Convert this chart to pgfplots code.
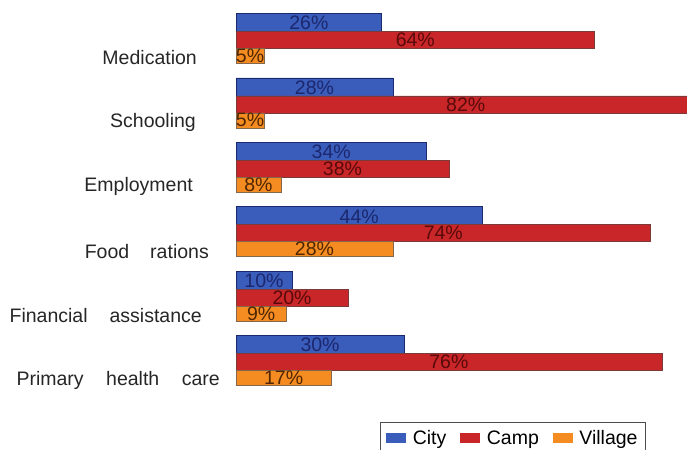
\documentclass[border=0pt]{standalone}
\usepackage{pgfplots}
\pgfplotsset{compat=1.18}
\usepackage{pgfplotstable}
\usepackage{fontspec}
\setmainfont{Liberation Sans}
\definecolor{cityc}{RGB}{58,92,186}
\definecolor{campc}{RGB}{200,38,40}
\definecolor{villc}{RGB}{245,140,34}
\definecolor{citydk}{RGB}{28,40,110}
\definecolor{campdk}{RGB}{90,10,10}
\definecolor{villdk}{RGB}{80,38,0}
\pgfplotstableread{
pos City Camp Village
5 26 64 5
4 28 82 5
3 34 38 8
2 44 74 28
1 10 20 9
0 30 76 17
}\datatable
\newcommand{\lbl}{\fontsize{19.5bp}{22bp}\selectfont}
\begin{document}
\begin{tikzpicture}
\begin{axis}[
  at={(236bp,0bp)}, anchor=south west,
  scale only axis, width=451bp, height=450bp,
  xmin=0, xmax=80.5, ymin=-1.366, ymax=5.621,
  axis line style={draw=none},
  major tick length=0pt,
  xtick=\empty,
  ytick={0,1,2,3,4,5},
  yticklabels={Primary\hspace{22.5bp}health\hspace{22.5bp}care,
               Financial\hspace{22bp}assistance\kern18bp,
               Food\hspace{21bp}rations\kern11bp,
               Employment\kern27bp,
               Schooling\kern24bp,
               Medication\kern23bp},
  yticklabel style={font=\lbl, text=black!85, anchor=east, inner sep=0pt, xshift=-16bp, yshift=-18bp},
  legend style={at={(rel axis cs:0.3193,0.0622)}, anchor=north west,
    draw=black!70, line width=0.6pt, font=\lbl, legend columns=3,
    inner xsep=6bp, inner ysep=6bp,
    /tikz/every odd column/.append style={column sep=5bp},
    /tikz/every even column/.append style={column sep=12bp}},
  legend cell align=left,
]
\addplot[xbar, bar width=19bp, bar shift=17bp, fill=cityc, draw=citydk, line width=0.5pt,
  legend image code/.code={\fill[cityc] (0bp,-4.5bp) rectangle (19bp,4.5bp);}]
  table[x=City, y=pos] {\datatable};
\addplot[xbar, bar width=17bp, bar shift=0bp, fill=campc, draw=campdk!80, line width=0.5pt,
  legend image code/.code={\fill[campc] (0bp,-4.5bp) rectangle (19bp,4.5bp);}]
  table[x=Camp, y=pos] {\datatable};
\addplot[xbar, bar width=15bp, bar shift=-16bp, fill=villc, draw=villdk!70, line width=0.5pt,
  legend image code/.code={\fill[villc] (0bp,-4.5bp) rectangle (19bp,4.5bp);}]
  table[x=Village, y=pos] {\datatable};
\legend{City, Camp, Village}
% value labels at bar centres
\addplot[forget plot, draw=none, mark=none, nodes near coords={\pgfmathprintnumber[assume math mode=true]{\pgfplotspointmeta}\%},
  point meta=explicit, nodes near coords style={anchor=center, font=\lbl, text=citydk, inner sep=0pt}]
  table[x expr=\thisrow{City}/2, y expr=\thisrow{pos}+0.26, meta=City] {\datatable};
\addplot[forget plot, draw=none, mark=none, nodes near coords={\pgfmathprintnumber[assume math mode=true]{\pgfplotspointmeta}\%},
  point meta=explicit, nodes near coords style={anchor=center, font=\lbl, text=campdk, inner sep=0pt}]
  table[x expr=\thisrow{Camp}/2, y expr=\thisrow{pos}, meta=Camp] {\datatable};
\addplot[forget plot, draw=none, mark=none, nodes near coords={\pgfmathprintnumber[assume math mode=true]{\pgfplotspointmeta}\%},
  point meta=explicit, nodes near coords style={anchor=center, font=\lbl, text=villdk, inner sep=0pt}]
  table[x expr=\thisrow{Village}/2, y expr=\thisrow{pos}-0.245, meta=Village] {\datatable};
\end{axis}
\pgfresetboundingbox
\path[use as bounding box] (0bp,0bp) rectangle (687bp,450bp);
\end{tikzpicture}
\end{document}
